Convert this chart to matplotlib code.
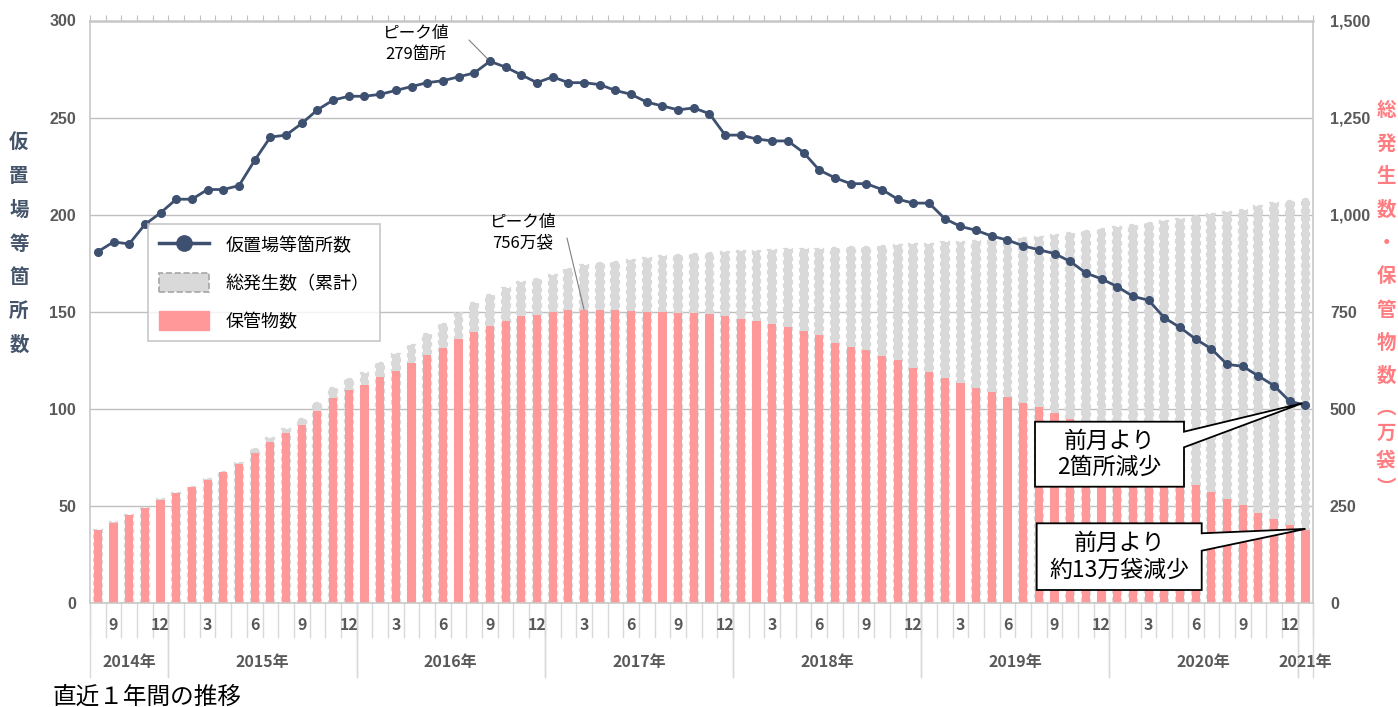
import matplotlib
matplotlib.use("Agg")
import matplotlib.pyplot as plt
from matplotlib.lines import Line2D
from matplotlib.patches import Patch, Polygon
import numpy as np
import pandas as pd

plt.rcParams['font.family'] = ['Noto Sans CJK JP', 'DejaVu Sans']

# monthly categories, Aug 2014 - Jan 2021
months = pd.date_range('2014-08-01', periods=78, freq='MS')

# 仮置場等箇所数 (left axis)
sites = [181, 186, 185, 195, 201, 208, 208, 213, 213, 215,
         228, 240, 241, 247, 254, 259, 261, 261, 262, 264,
         266, 268, 269, 271, 273, 279, 276, 272, 268, 271,
         268, 268, 267, 264, 262, 258, 256, 254, 255, 252,
         241, 241, 239, 238, 238, 232, 223, 219, 216, 216,
         213, 208, 206, 206, 198, 194, 192, 189, 187, 184,
         182, 180, 176, 170, 167, 163, 158, 156, 147, 142,
         136, 131, 123, 122, 117, 112, 104, 102]

# 総発生数（累計） 万袋 (right axis)
total = [189, 208, 227, 246, 268, 284, 300, 319, 339, 361,
         396, 425, 449, 475, 516, 553, 577, 593, 618, 642,
         666, 692, 719, 746, 772, 793, 811, 827, 835, 845,
         860, 870, 875, 878, 883, 889, 894, 896, 899, 902,
         905, 906, 907, 909, 911, 913, 913, 914, 916, 918,
         920, 921, 924, 926, 929, 931, 933, 937, 938, 940,
         943, 948, 953, 959, 964, 969, 973, 978, 984, 989,
         997, 1002, 1007, 1012, 1023, 1029, 1036, 1040]

# 保管物数 万袋 (right axis)
stored = [189, 207, 226, 245, 267, 283, 299, 318, 338, 359,
          388, 416, 439, 460, 496, 528, 550, 563, 582, 598,
          618, 639, 658, 679, 698, 714, 727, 739, 741, 750,
          755, 756, 755, 754, 753, 751, 750, 748, 748, 745,
          739, 733, 726, 720, 712, 701, 690, 671, 660, 652,
          636, 625, 606, 595, 579, 566, 555, 544, 530, 515,
          504, 491, 474, 455, 437, 418, 397, 374, 350, 327,
          304, 286, 269, 253, 232, 216, 202, 189]

NAVY = '#3e5070'
PINK = '#ff9999'
GREY = '#d9d9d9'
TXT = '#595959'

W, H = 1398, 707
L, R, T, B = 90, 1313.3, 20.5, 603.3
fig = plt.figure(figsize=(W / 100, H / 100), dpi=100)
ax = fig.add_axes([L / W, 1 - B / H, (R - L) / W, (B - T) / H])
ax2 = ax.twinx()
ax.set_zorder(3)
ax.patch.set_visible(False)

x = np.arange(len(months))

# bars on right axis
ax2.bar(x, total, width=0.5, color=GREY, edgecolor=GREY,
        linestyle=(0, (2, 1.5)), linewidth=1.6)
ax2.bar(x, stored, width=0.52, color=PINK, linewidth=0)
ax2.set_ylim(0, 1500)
ax2.set_yticks(np.arange(0, 1501, 250),
               labels=[f'{v:,}' for v in range(0, 1501, 250)])
ax2.grid(axis='y', color='#bfbfbf', lw=1)
ax2.set_axisbelow(True)
ax2.tick_params(axis='y', length=0, pad=12, labelcolor=TXT)
for s in ax2.spines.values():
    s.set_visible(False)

# line on left axis
ax.plot(x, sites, color=NAVY, lw=2, marker='o', ms=5.5, zorder=5)
ax.set_ylim(0, 300)
ax.set_xlim(-0.5, len(months) - 0.5)
ax.set_yticks(np.arange(0, 301, 50))
ax.tick_params(axis='y', length=0, pad=10, labelcolor=TXT)
for lab in ax.get_yticklabels() + ax2.get_yticklabels():
    lab.set_fontfamily('Liberation Sans')
    lab.set_fontweight('bold')
    lab.set_fontsize(11.5)

ax.set_xticks(np.arange(-0.5, len(months), 1))
ax.tick_params(axis='x', top=True, bottom=False, labelbottom=False,
               labeltop=False, direction='out', length=4, color='#bfbfbf')
for s in ax.spines.values():
    s.set_color('#c8c8c8')
    s.set_linewidth(1.2)
ax.spines['top'].set_linewidth(1.8)

# two level category axis
tr = ax.get_xaxis_transform()
ph = B - T
for b in np.arange(-0.5, len(months), 1):
    ax.plot([b, b], [0, -34 / ph], transform=tr, color=GREY, lw=1,
            clip_on=False)
for i, d in enumerate(months):
    if d.month % 3 == 0:
        ax.text(i, -22 / ph, str(d.month), transform=tr, ha='center',
                va='center', fontsize=11.5, fontweight='bold', color=TXT)
years = months.year
for y in sorted(set(years)):
    idx = np.where(years == y)[0]
    lo, hi = idx[0] - 0.5, idx[-1] + 0.5
    for b in (lo, hi):
        ax.plot([b, b], [0, -74 / ph], transform=tr, color=GREY, lw=1,
                clip_on=False)
    cx = (lo + hi) / 2 if len(idx) > 1 else idx[0]
    ax.text(cx, -58.5 / ph, f'{y}年', transform=tr, ha='center',
            va='center', fontsize=11.5, fontweight='bold', color=TXT)

# axis titles (stacked vertical text)
for k, ch in enumerate('仮置場等箇所数'):
    fig.text(19 / W, 1 - (143 + 33.7 * k) / H, ch, ha='center', va='center',
             fontsize=14, fontweight='bold', color='#44546a')
rlabel = ['総', '発', '生', '数', '・', '保', '管', '物', '数', '︵', '万', '袋', '︶']
rpos = [111, 144, 177, 210, 244, 277, 310, 343, 376, 408, 433, 461, 488]
for ch, py in zip(rlabel, rpos):
    fig.text(1386 / W, 1 - py / H, ch, ha='center', va='center',
             fontsize=14, fontweight='bold', color='#ff7c80')

# peak annotations
def px2d(px, py):
    return ((px - L) / (R - L) * len(months) - 0.5, (B - py) / (B - T) * 300)

ax.text(*px2d(416, 44), 'ピーク値\n279箇所', ha='center', va='center',
        fontsize=12, linespacing=1.25)
ax.annotate('', xy=(25, 279), xytext=px2d(469, 40),
            arrowprops=dict(arrowstyle='-', color='#7f7f7f', lw=0.8,
                            shrinkA=0, shrinkB=3))
peak_i = int(np.argmax(stored))
ax.text(*px2d(523, 233), 'ピーク値\n756万袋', ha='center', va='center',
        fontsize=12, linespacing=1.25)
ax.annotate('', xy=(peak_i, stored[peak_i] / 5), xytext=px2d(567, 238),
            arrowprops=dict(arrowstyle='-', color='#7f7f7f', lw=0.8,
                            shrinkA=0, shrinkB=0))

# callouts
def callout(box, a1, a2, tip, text):
    (x0, y0), (x1, y1) = px2d(*box[0]), px2d(*box[1])
    ya, yb = px2d(0, a1)[1], px2d(0, a2)[1]
    verts = [(x0, y1), (x0, y0), (x1, y0), (x1, ya), tip, (x1, yb), (x1, y1)]
    ax.add_patch(Polygon(verts, closed=True, facecolor='white',
                         edgecolor='black', lw=1.3, zorder=6, clip_on=False))
    ax.text((x0 + x1) / 2, (y0 + y1) / 2, text, ha='center', va='center',
            fontsize=16.5, linespacing=1.2, zorder=7)

callout(((1035, 421.7), (1184, 486.7)), 431.7, 447.3,
        (len(months) - 1 - 0.2, sites[-1] + 1), '前月より\n2箇所減少')
callout(((1036.7, 523.3), (1201.7, 590)), 533.3, 550.7,
        (len(months) - 1, stored[-1] / 5 + 0.5), '前月より\n約13万袋減少')

# legend
handles = [Line2D([], [], color=NAVY, lw=2.5, marker='o', ms=11),
           Patch(facecolor=GREY, edgecolor='#a6a6a6', linestyle='--', lw=1.2),
           Patch(facecolor=PINK, edgecolor=PINK)]
leg = ax.legend(handles, ['仮置場等箇所数', '総発生数（累計）', '保管物数'],
                loc='upper left', bbox_to_anchor=((148 - L) / (R - L), (B - 224) / (B - T)),
                borderaxespad=0, fontsize=13, frameon=True, fancybox=False,
                edgecolor='#bfbfbf', handlelength=2.8, handleheight=1.3,
                labelspacing=1.0, borderpad=0.6, handletextpad=0.9)
leg.get_frame().set_linewidth(1.3)
leg.set_zorder(8)

fig.text(53 / W, 1 - 697 / H, '直近１年間の推移', ha='left', va='center',
         fontsize=17)

fig.savefig('out.png', dpi=100, facecolor='white')
